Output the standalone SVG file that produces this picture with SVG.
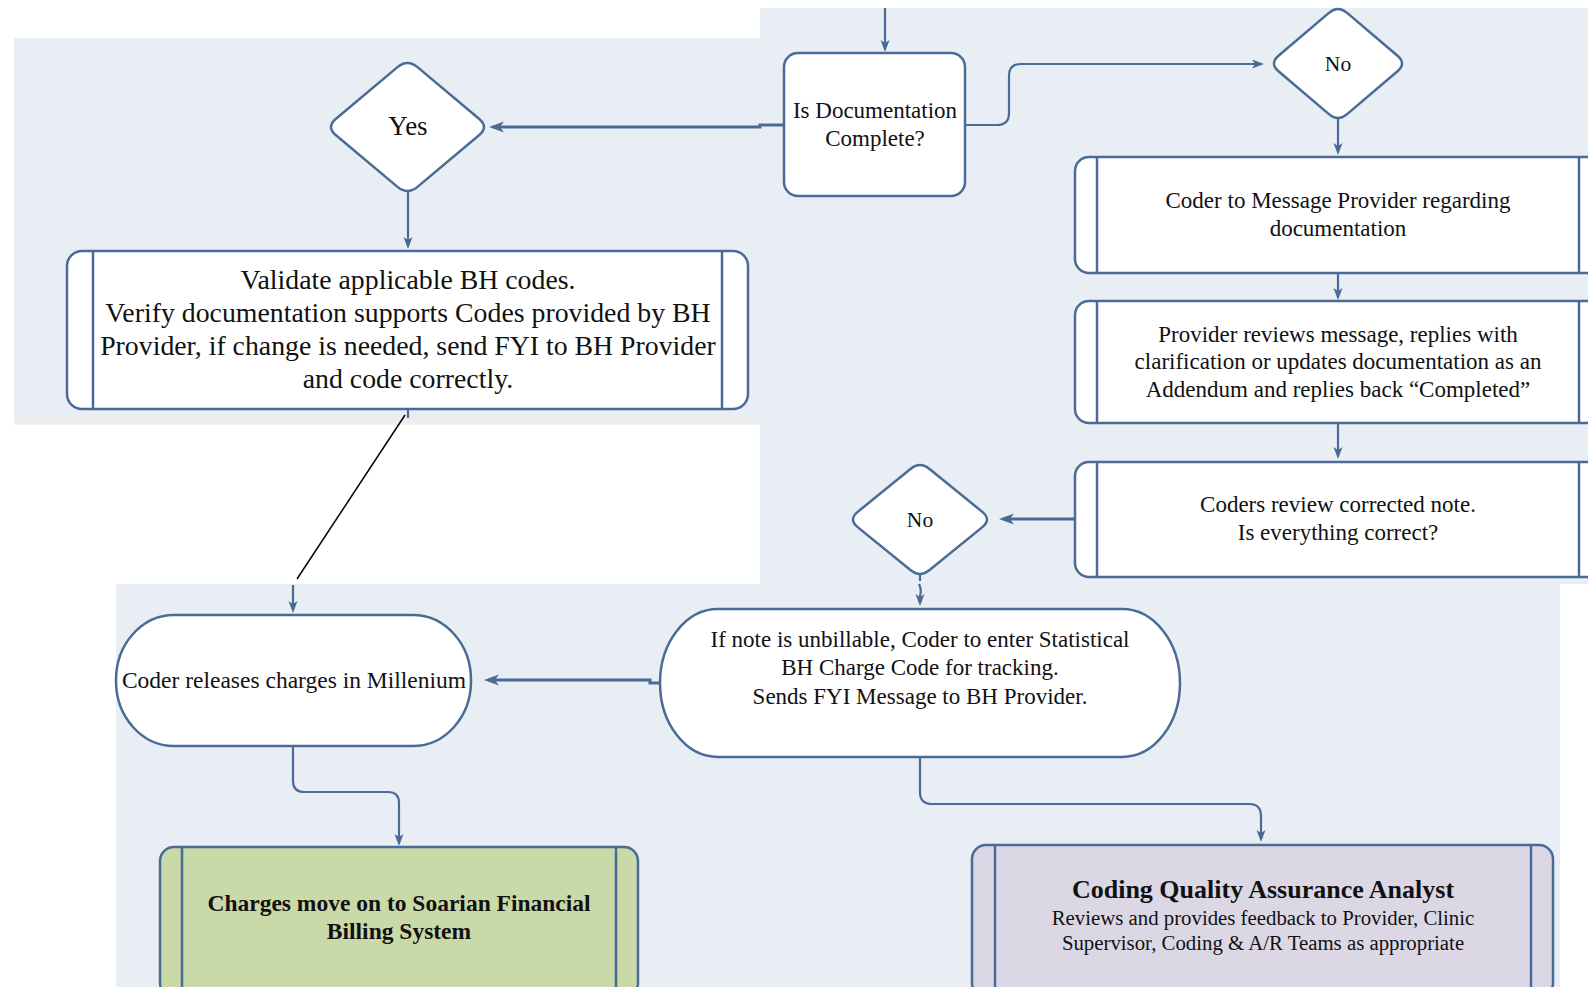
<svg xmlns="http://www.w3.org/2000/svg" width="1588" height="987" viewBox="0 0 1588 987">
<style>
.bg{fill:#e9eef5}
.node{fill:#ffffff;stroke:#4a6b95;stroke-width:2.5}
.inner{stroke:#4a6b95;stroke-width:2.5;fill:none}
.green{fill:#c9d9a7}
.purple{fill:#dcd7e5}
.conn{fill:none;stroke:#4a6b95;stroke-width:2.2}
.thick{stroke-width:3}
.t{font-family:"Liberation Serif","Times New Roman",serif;font-size:23px;fill:#111;text-anchor:middle}
.b{font-weight:bold}
</style>
<defs>
<marker id="ah" markerUnits="userSpaceOnUse" markerWidth="16" markerHeight="12" refX="11" refY="5.5" orient="auto">
<path d="M0,0 L15,5.5 L0,11 L4,5.5 Z" fill="#4a6b95"/>
</marker>
<marker id="ahs" markerUnits="userSpaceOnUse" markerWidth="13" markerHeight="10" refX="9" refY="4.5" orient="auto">
<path d="M0,0 L12,4.5 L0,9 L3,4.5 Z" fill="#4a6b95"/>
</marker>
</defs>

<g id="background">
<rect class="bg" x="14" y="38" width="746" height="382"/>
<rect x="14" y="420" width="746" height="5" fill="#efefef"/>
<rect class="bg" x="760" y="8" width="828" height="576"/>
<rect class="bg" x="116" y="584" width="1444" height="403"/>
</g>

<g id="connectors">
<path class="conn" d="M885,8 V49" marker-end="url(#ahs)"/>
<path class="conn thick" d="M784,125 H760 V127 H493" marker-end="url(#ah)"/>
<path class="conn" d="M408,191 V246" marker-end="url(#ahs)"/>
<path class="conn" d="M408,409 V418"/>
<path d="M405,415 L297,579" stroke="#000" stroke-width="1.5" fill="none"/>
<path class="conn" d="M293,585 V610" marker-end="url(#ahs)"/>
<path class="conn thick" d="M660,683 H650 V680 H488" marker-end="url(#ah)"/>
<path class="conn" d="M293,746 V781 Q293,792 304,792 H388 Q399,792 399,803 V843" marker-end="url(#ahs)"/>
<path class="conn" d="M965,125 H997 Q1009,125 1009,113 V76 Q1009,64 1021,64 H1261" marker-end="url(#ahs)"/>
<path class="conn" d="M1338,118 V152" marker-end="url(#ahs)"/>
<path class="conn" d="M1338,273 V297" marker-end="url(#ahs)"/>
<path class="conn" d="M1338,423 V456" marker-end="url(#ahs)"/>
<path class="conn thick" d="M1075,519 H1003" marker-end="url(#ah)"/>
<path class="conn" d="M920,574 V581"/>
<path class="conn" d="M919,584 Q922,590 920,596 V603" marker-end="url(#ahs)"/>
<path class="conn" d="M920,757 V792 Q920,804 932,804 H1249 Q1261,804 1261,816 V839" marker-end="url(#ahs)"/>
</g>

<g id="is-documentation-complete">
<rect class="node" x="784" y="53" width="181" height="143" rx="14"/>
<text class="t" x="875" y="118">Is Documentation</text>
<text class="t" x="875" y="146">Complete?</text>
</g>

<g id="yes-decision">
<path class="node" d="M397.5,67.1 Q407.5,58.8 417.5,67.1 L479,118.7 Q489,127 479,135.3 L417.5,186.9 Q407.5,195.2 397.5,186.9 L336,135.3 Q326,127 336,118.7 Z"/>
<text class="t" x="408" y="135" style="font-size:27px">Yes</text>
</g>

<g id="validate-codes">
<rect class="node" x="67" y="251" width="681" height="158" rx="15"/>
<line class="inner" x1="93" y1="251" x2="93" y2="409"/>
<line class="inner" x1="722" y1="251" x2="722" y2="409"/>
<text class="t" x="408" y="289" style="font-size:27.8px">Validate applicable BH codes.</text>
<text class="t" x="408" y="322" style="font-size:27.8px">Verify documentation supports Codes provided by BH</text>
<text class="t" x="408" y="355" style="font-size:27.8px">Provider, if change is needed, send FYI to BH Provider</text>
<text class="t" x="408" y="388" style="font-size:27.8px">and code correctly.</text>
</g>

<g id="coder-releases">
<rect class="node" x="116" y="615" width="355" height="131" rx="58" ry="65"/>
<text class="t" x="294" y="688" style="font-size:23.5px">Coder releases charges in Millenium</text>
</g>

<g id="charges-soarian">
<rect class="node green" x="160" y="847" width="478" height="150" rx="14"/>
<line class="inner" x1="182" y1="847" x2="182" y2="990"/>
<line class="inner" x1="616" y1="847" x2="616" y2="990"/>
<text class="t b" x="399" y="911" style="font-size:23.5px">Charges move on to Soarian Financial</text>
<text class="t b" x="399" y="939" style="font-size:23.5px">Billing System</text>
</g>

<g id="no-decision-top">
<path class="node" d="M1328.9,12.9 Q1338,5.1 1347.1,12.9 L1397.5,55.7 Q1406.6,63.5 1397.5,71.3 L1347.1,114.1 Q1338,121.9 1328.9,114.1 L1278.5,71.3 Q1269.4,63.5 1278.5,55.7 Z"/>
<text class="t" x="1338" y="71" style="font-size:21.5px">No</text>
</g>

<g id="coder-message-provider">
<rect class="node" x="1075" y="157" width="545" height="116" rx="14"/>
<line class="inner" x1="1097" y1="157" x2="1097" y2="273"/>
<line class="inner" x1="1579" y1="157" x2="1579" y2="273"/>
<text class="t" x="1338" y="208">Coder to Message Provider regarding</text>
<text class="t" x="1338" y="236">documentation</text>
</g>

<g id="provider-reviews">
<rect class="node" x="1075" y="301" width="545" height="122" rx="14"/>
<line class="inner" x1="1097" y1="301" x2="1097" y2="423"/>
<line class="inner" x1="1579" y1="301" x2="1579" y2="423"/>
<text class="t" x="1338" y="342">Provider reviews message, replies with</text>
<text class="t" x="1338" y="369">clarification or updates documentation as an</text>
<text class="t" x="1338" y="397">Addendum and replies back “Completed”</text>
</g>

<g id="coders-review">
<rect class="node" x="1075" y="462" width="545" height="115" rx="14"/>
<line class="inner" x1="1097" y1="462" x2="1097" y2="577"/>
<line class="inner" x1="1579" y1="462" x2="1579" y2="577"/>
<text class="t" x="1338" y="512">Coders review corrected note.</text>
<text class="t" x="1338" y="540">Is everything correct?</text>
</g>

<g id="no-decision-bottom">
<path class="node" d="M910.75,468.8 Q920,461.2 929.25,468.8 L982.35,511.9 Q991.6,519.5 982.35,527.1 L929.25,570.2 Q920,577.8 910.75,570.2 L857.65,527.1 Q848.4,519.5 857.65,511.9 Z"/>
<text class="t" x="920" y="527" style="font-size:21.5px">No</text>
</g>

<g id="unbillable-note">
<rect class="node" x="660" y="609" width="520" height="148" rx="58" ry="74"/>
<text class="t" x="920" y="647">If note is unbillable, Coder to enter Statistical</text>
<text class="t" x="920" y="675">BH Charge Code for tracking.</text>
<text class="t" x="920" y="704">Sends FYI Message to BH Provider.</text>
</g>

<g id="coding-qa-analyst">
<rect class="node purple" x="972" y="845" width="581" height="152" rx="14"/>
<line class="inner" x1="995" y1="845" x2="995" y2="990"/>
<line class="inner" x1="1531" y1="845" x2="1531" y2="990"/>
<text class="t b" x="1263" y="898" style="font-size:26px">Coding Quality Assurance Analyst</text>
<text class="t" x="1263" y="925" style="font-size:20.8px">Reviews and provides feedback to Provider, Clinic</text>
<text class="t" x="1263" y="950" style="font-size:20.8px">Supervisor, Coding &amp; A/R Teams as appropriate</text>
</g>
</svg>
